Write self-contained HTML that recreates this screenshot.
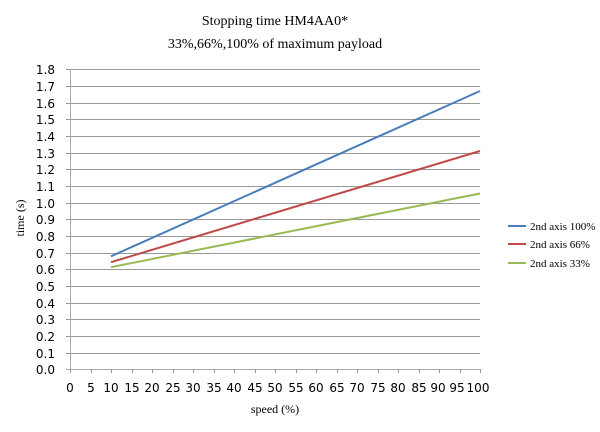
<!DOCTYPE html>
<html><head><style>body{margin:0;background:#fff}</style></head><body>
<svg width="600" height="427" xmlns="http://www.w3.org/2000/svg">
<rect width="600" height="427" fill="#fff"/>
<g font-family="Liberation Serif, serif" font-size="14" fill="#000" text-anchor="middle">
<text x="275" y="25">Stopping time HM4AA0*</text>
<text x="275" y="48">33%,66%,100% of maximum payload</text>
</g>
<g stroke="#999" stroke-width="1" shape-rendering="crispEdges">
<path d="M66 69.5H480M66 86.5H480M66 103.5H480M66 119.5H480M66 136.5H480M66 153.5H480M66 169.5H480M66 186.5H480M66 203.5H480M66 219.5H480M66 236.5H480M66 253.5H480M66 269.5H480M66 286.5H480M66 303.5H480M66 319.5H480M66 336.5H480M66 353.5H480"/>
<path d="M70.5 69V373M66 369.5H480" stroke="#aaa"/>
<path d="M70.5 369V373M91.5 369V373M111.5 369V373M132.5 369V373M152.5 369V373M173.5 369V373M193.5 369V373M214.5 369V373M234.5 369V373M255.5 369V373M275.5 369V373M296.5 369V373M316.5 369V373M337.5 369V373M357.5 369V373M378.5 369V373M398.5 369V373M419.5 369V373M439.5 369V373M460.5 369V373M480.5 369V373"/>
</g>
<g font-family="DejaVu Sans, sans-serif" font-size="12" fill="#000" text-anchor="end">
<text x="55" y="74">1.8</text><text x="55" y="91">1.7</text><text x="55" y="108">1.6</text><text x="55" y="124">1.5</text><text x="55" y="141">1.4</text><text x="55" y="158">1.3</text><text x="55" y="174">1.2</text><text x="55" y="191">1.1</text><text x="55" y="208">1.0</text><text x="55" y="224">0.9</text><text x="55" y="241">0.8</text><text x="55" y="258">0.7</text><text x="55" y="274">0.6</text><text x="55" y="291">0.5</text><text x="55" y="308">0.4</text><text x="55" y="324">0.3</text><text x="55" y="341">0.2</text><text x="55" y="358">0.1</text><text x="55" y="374">0.0</text>
</g>
<g font-family="DejaVu Sans, sans-serif" font-size="12" fill="#000" text-anchor="middle">
<text x="70" y="392">0</text><text x="91" y="392">5</text><text x="111" y="392">10</text><text x="132" y="392">15</text><text x="152" y="392">20</text><text x="173" y="392">25</text><text x="193" y="392">30</text><text x="214" y="392">35</text><text x="234" y="392">40</text><text x="255" y="392">45</text><text x="275" y="392">50</text><text x="296" y="392">55</text><text x="316" y="392">60</text><text x="337" y="392">65</text><text x="357" y="392">70</text><text x="378" y="392">75</text><text x="398" y="392">80</text><text x="419" y="392">85</text><text x="438" y="392">90</text><text x="457" y="392">95</text><text x="478" y="392">100</text>
</g>
<text x="275" y="413" font-family="Liberation Serif, serif" font-size="12" text-anchor="middle">speed (%)</text>
<text transform="translate(24,218) rotate(-90)" font-family="Liberation Serif, serif" font-size="12" text-anchor="middle">time (s)</text>
<g fill="none" stroke-width="2">
<line x1="111" y1="256.3" x2="480" y2="91" stroke="#4a7ebb"/>
<line x1="111" y1="262.2" x2="480" y2="151" stroke="#be4b48"/>
<line x1="111" y1="267.2" x2="480" y2="193.5" stroke="#98b954"/>
<line x1="508" y1="226" x2="526" y2="226" stroke="#4a7ebb"/>
<line x1="508" y1="244" x2="526" y2="244" stroke="#be4b48"/>
<line x1="508" y1="263" x2="526" y2="263" stroke="#98b954"/>
</g>
<g font-family="Liberation Serif, serif" font-size="11" fill="#000">
<text x="530" y="230">2nd axis 100%</text>
<text x="530" y="248">2nd axis 66%</text>
<text x="530" y="267">2nd axis 33%</text>
</g>
</svg>
</body></html>
